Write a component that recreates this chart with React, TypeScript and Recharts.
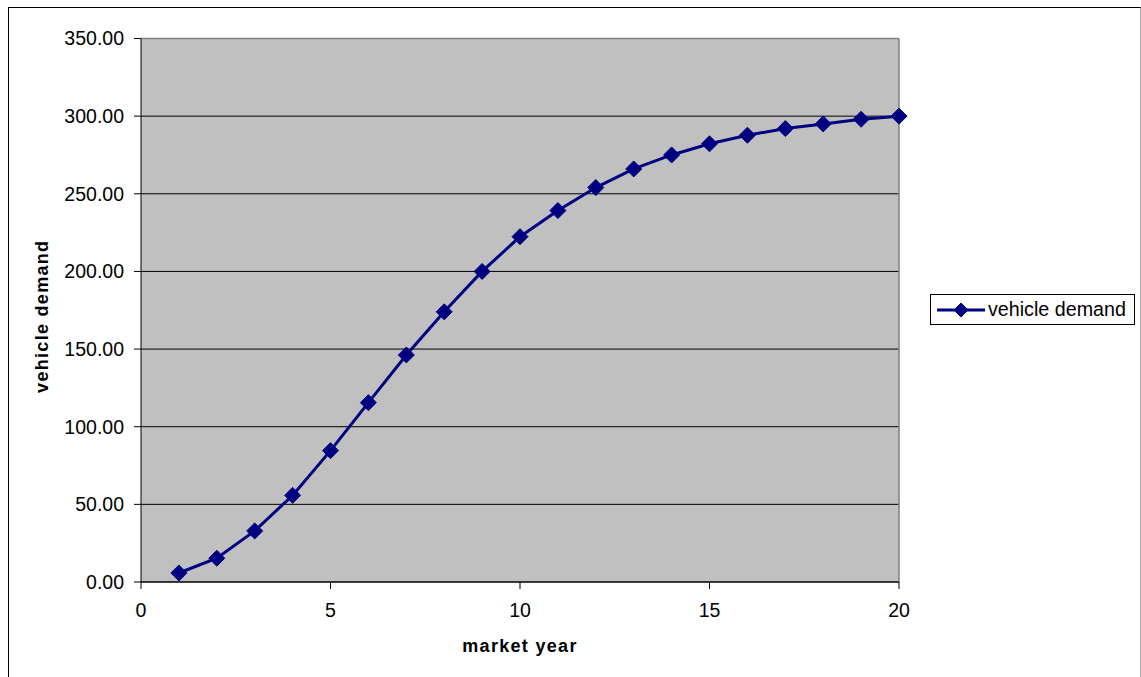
import React from "react";
import {
  LineChart,
  Line,
  XAxis,
  YAxis,
  CartesianGrid,
  ReferenceLine,
  Legend,
  Label,
} from "recharts";

const years = [1, 2, 3, 4, 5, 6, 7, 8, 9, 10, 11, 12, 13, 14, 15, 16, 17, 18, 19, 20];
const demand = [
  5.8, 15.3, 32.9, 55.8, 84.6, 115.5, 146.2, 174.0, 200.0, 222.4,
  239.2, 254.0, 266.0, 275.0, 282.2, 287.7, 292.0, 295.0, 298.0, 300.0,
];
const yTicks = [0, 50, 100, 150, 200, 250, 300, 350];
const xTicks = [0, 5, 10, 15, 20];

const data = years.map((year, i) => ({ year, demand: demand[i] }));

const NAVY = "#000080";
const FONT = "'Liberation Sans', Arial, sans-serif";

function Diamond({ cx, cy, r = 8 }: { cx: number; cy: number; r?: number }) {
  return (
    <polygon
      points={`${cx},${cy - r} ${cx + r},${cy} ${cx},${cy + r} ${cx - r},${cy}`}
      fill={NAVY}
      stroke={NAVY}
      strokeWidth={1}
    />
  );
}

function LegendBox() {
  return (
    <div
      style={{
        border: "1px solid #000",
        background: "#fff",
        height: 31,
        display: "flex",
        alignItems: "center",
        fontFamily: FONT,
        fontSize: 19.7,
        color: "#000",
        boxSizing: "border-box",
      }}
    >
      <svg width={56} height={20} style={{ marginLeft: 6 }}>
        <line x1={0} y1={10} x2={48} y2={10} stroke={NAVY} strokeWidth={3} />
        <Diamond cx={24} cy={10} r={7} />
      </svg>
      <span style={{ marginLeft: -5 }}>vehicle demand</span>
    </div>
  );
}

export default function App() {
  return (
    <div style={{ position: "fixed", inset: 0, overflow: "hidden", background: "#fff" }}>
      <div
        style={{
          position: "absolute",
          left: 8,
          top: 7,
          width: 1131,
          height: 700,
          borderLeft: "1px solid #000",
          borderTop: "1px solid #000",
          borderRight: "1px solid #aaa",
        }}
      >
        <LineChart
          width={1131}
          height={690}
          data={data}
          margin={{ top: 30.5, right: 241, bottom: 56, left: 52 }}
        >
          <CartesianGrid
            vertical={false}
            stroke="#000"
            fill="#c0c0c0"
            fillOpacity={1}
          />
          <ReferenceLine y={350} stroke="#808080" strokeWidth={1.5} />
          <ReferenceLine x={20} stroke="#808080" strokeWidth={1.5} />
          <XAxis
            dataKey="year"
            type="number"
            domain={[0, 20]}
            ticks={xTicks}
            height={60}
            stroke="#000"
            tickSize={7}
            tickMargin={14}
            tick={{ fill: "#000", fontFamily: FONT, fontSize: 19.5 }}
          >
            <Label
              content={({ viewBox }: any) => (
                <text
                  x={viewBox.x + viewBox.width / 2}
                  y={viewBox.y + 70}
                  textAnchor="middle"
                  fontFamily={FONT}
                  fontWeight="bold"
                  fontSize={18}
                  letterSpacing={1.3}
                  fill="#000"
                >
                  market year
                </text>
              )}
            />
          </XAxis>
          <YAxis
            type="number"
            domain={[0, 350]}
            ticks={yTicks}
            width={80}
            stroke="#000"
            tickSize={7}
            tickMargin={10}
            tickFormatter={(v: number) => v.toFixed(2)}
            tick={{ fill: "#000", fontFamily: FONT, fontSize: 19.5 }}
          >
            <Label
              content={({ viewBox }: any) => {
                const x = 39;
                const y = viewBox.y + viewBox.height / 2 + 6;
                return (
                  <text
                    x={x}
                    y={y}
                    transform={`rotate(-90, ${x}, ${y})`}
                    textAnchor="middle"
                    fontFamily={FONT}
                    fontWeight="bold"
                    fontSize={18}
                    letterSpacing={1.3}
                    fill="#000"
                  >
                    vehicle demand
                  </text>
                );
              }}
            />
          </YAxis>
          <Legend
            layout="horizontal"
            verticalAlign="middle"
            align="center"
            content={() => <LegendBox />}
            wrapperStyle={{ left: 921, top: 286, width: 205 }}
          />
          <Line
            type="linear"
            dataKey="demand"
            name="vehicle demand"
            stroke={NAVY}
            strokeWidth={3}
            isAnimationActive={false}
            dot={(p: any) => <Diamond key={`d-${p.index}`} cx={p.cx} cy={p.cy} />}
            activeDot={false}
          />
        </LineChart>
      </div>
    </div>
  );
}
